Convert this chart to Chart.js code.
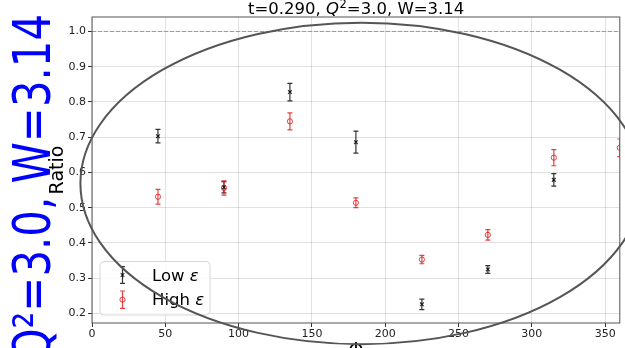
<!DOCTYPE html>
<html>
<head>
<meta charset="utf-8">
<script src="https://cdn.jsdelivr.net/npm/chart.js@4/dist/chart.umd.min.js"></script>
<style>
html,body{margin:0;padding:0;background:#fff;}
#wrap{width:625px;height:348px;position:relative;}
</style>
</head>
<body>
<div id="wrap"><canvas id="c" width="625" height="348"></canvas></div>
<script>
// ---- data ----
const lowPhi   = [45, 90, 135, 180, 225, 270, 315];
const lowRatio = [0.703, 0.558, 0.828, 0.686, 0.226, 0.325, 0.579];
const lowErr   = [0.019, 0.016, 0.025, 0.031, 0.015, 0.011, 0.018];

const highPhi   = [45, 90, 135, 180, 225, 270, 315, 360];
const highRatio = [0.531, 0.556, 0.745, 0.514, 0.353, 0.423, 0.642, 0.670];
const highErr   = [0.021, 0.020, 0.024, 0.014, 0.012, 0.015, 0.023, 0.025];

const xTicks = [0, 50, 100, 150, 200, 250, 300, 350];
const yTicks = [0.2, 0.3, 0.4, 0.5, 0.6, 0.7, 0.8, 0.9, 1.0];
const refLine = 1.0;

const titleParts = ["t=0.290, ", "Q", "2", "=3.0, W=3.14"];
const sideText = "Q\u00b2=3.0, W=3.14";
const yLabel = "Ratio";
const xLabel = "\u03a6";
const legendLabels = ["Low ", "High "];

// ellipse annotation (in data units)
const ellipseCenter = [183.7, 0.569];
const ellipseRadii = [191.6, 0.456];

const FONT = "'DejaVu Sans', sans-serif";
const LOW_COLOR = "rgba(0,0,0,0.8)";
const HIGH_COLOR = "rgba(228,30,30,0.85)";

function drawErr(ctx, x, yT, yB, color) {
  ctx.strokeStyle = color;
  ctx.lineWidth = 1.2;
  ctx.beginPath();
  ctx.moveTo(x, yT); ctx.lineTo(x, yB);
  ctx.moveTo(x - 2.5, yT); ctx.lineTo(x + 2.5, yT);
  ctx.moveTo(x - 2.5, yB); ctx.lineTo(x + 2.5, yB);
  ctx.stroke();
}

const errPlugin = {
  id: 'errbars',
  beforeDatasetsDraw(chart) {
    const ctx = chart.ctx, a = chart.chartArea;
    const xs = chart.scales.x, ys = chart.scales.y;
    ctx.save();
    ctx.beginPath(); ctx.rect(a.left, a.top, a.right - a.left, a.bottom - a.top); ctx.clip();
    ctx.strokeStyle = '#9a9a9a'; ctx.lineWidth = 1; ctx.setLineDash([4, 2]);
    const yr = ys.getPixelForValue(refLine);
    ctx.beginPath(); ctx.moveTo(a.left, yr); ctx.lineTo(a.right, yr); ctx.stroke();
    ctx.setLineDash([]);
    const sets = [[lowPhi, lowRatio, lowErr, LOW_COLOR], [highPhi, highRatio, highErr, HIGH_COLOR]];
    sets.forEach(([px, py, pe, col]) => {
      px.forEach((p, i) => {
        const x = xs.getPixelForValue(p);
        drawErr(ctx, x, ys.getPixelForValue(py[i] + pe[i]), ys.getPixelForValue(py[i] - pe[i]), col);
      });
    });
    ctx.restore();
  },
  afterDraw(chart) {
    const ctx = chart.ctx, a = chart.chartArea;
    const xs = chart.scales.x, ys = chart.scales.y;
    ctx.save();
    // frame
    ctx.strokeStyle = '#555'; ctx.lineWidth = 1;
    ctx.strokeRect(a.left, a.top, a.right - a.left, a.bottom - a.top);

    // title
    ctx.fillStyle = '#000';
    ctx.textBaseline = 'alphabetic';
    const fN = "16.5px " + FONT, fI = "italic 16.5px " + FONT, fS = "11.5px " + FONT;
    ctx.font = fN; const w0 = ctx.measureText(titleParts[0]).width;
    ctx.font = fI; const w1 = ctx.measureText(titleParts[1]).width;
    ctx.font = fS; const w2 = ctx.measureText(titleParts[2]).width;
    ctx.font = fN; const w3 = ctx.measureText(titleParts[3]).width;
    let tx = (a.left + a.right) / 2 - (w0 + w1 + w2 + w3) / 2;
    const tb = 13.5;
    ctx.textAlign = 'left';
    ctx.font = fN; ctx.fillText(titleParts[0], tx, tb); tx += w0;
    ctx.font = fI; ctx.fillText(titleParts[1], tx, tb); tx += w1 + 0.5;
    ctx.font = fS; ctx.fillText(titleParts[2], tx, tb - 6); tx += w2;
    ctx.font = fN; ctx.fillText(titleParts[3], tx, tb);

    // y label
    ctx.save();
    ctx.translate(63, (a.top + a.bottom) / 2);
    ctx.rotate(-Math.PI / 2);
    ctx.font = "19px " + FONT; ctx.textAlign = 'center';
    ctx.fillText(yLabel, 0, 0);
    ctx.restore();

    // x label
    ctx.font = "19px " + FONT; ctx.textAlign = 'center';
    ctx.fillText(xLabel, (a.left + a.right) / 2, 356);

    // big side text
    ctx.save();
    ctx.translate(50, 14);
    ctx.rotate(-Math.PI / 2);
    ctx.scale(0.82, 1);
    ctx.font = "51px " + FONT; ctx.textAlign = 'right'; ctx.fillStyle = '#0000ff';
    ctx.fillText(sideText, 0, 0);
    ctx.restore();

    // legend
    const lx = 100, ly = 261.5, lw = 110, lh = 53.5;
    ctx.beginPath();
    ctx.roundRect(lx, ly, lw, lh, 4);
    ctx.fillStyle = 'rgba(255,255,255,0.8)'; ctx.fill();
    ctx.strokeStyle = '#d6d6d6'; ctx.lineWidth = 1; ctx.stroke();
    const mx = 122.5;
    drawErr(ctx, mx, 266.7, 283.3, LOW_COLOR);
    ctx.strokeStyle = LOW_COLOR; ctx.lineWidth = 1.2;
    ctx.beginPath();
    ctx.moveTo(mx - 1.8, 273.2); ctx.lineTo(mx + 1.8, 276.8);
    ctx.moveTo(mx - 1.8, 276.8); ctx.lineTo(mx + 1.8, 273.2);
    ctx.stroke();
    drawErr(ctx, mx, 291, 308.3, HIGH_COLOR);
    ctx.strokeStyle = HIGH_COLOR; ctx.lineWidth = 1;
    ctx.beginPath(); ctx.arc(mx, 299.6, 2.6, 0, Math.PI * 2); ctx.stroke();
    ctx.fillStyle = '#000'; ctx.textAlign = 'left';
    [[legendLabels[0], 281], [legendLabels[1], 305]].forEach(([t, b]) => {
      ctx.font = "16.5px " + FONT;
      ctx.fillText(t, 152, b);
      const w = ctx.measureText(t).width;
      ctx.font = "italic 16.5px " + FONT;
      ctx.fillText("\u03b5", 152 + w, b);
    });

    // ellipse annotation
    const cx = xs.getPixelForValue(ellipseCenter[0]);
    const cy = ys.getPixelForValue(ellipseCenter[1]);
    const rx = xs.getPixelForValue(ellipseCenter[0] + ellipseRadii[0]) - cx;
    const ry = ys.getPixelForValue(ellipseCenter[1] - ellipseRadii[1]) - cy;
    ctx.strokeStyle = '#555'; ctx.lineWidth = 2;
    ctx.beginPath(); ctx.ellipse(cx, cy, rx, ry, 0, 0, Math.PI * 2); ctx.stroke();
    ctx.restore();
  }
};

const gridCommon = {
  color: 'rgba(0,0,0,0.15)',
  lineWidth: 0.8,
  borderDash: [1.5, 1.5],
  tickBorderDash: [],
  tickColor: '#333',
  tickWidth: 1,
  tickLength: 4,
  drawTicks: true
};

new Chart(document.getElementById('c'), {
  type: 'scatter',
  data: {
    datasets: [
      {
        label: 'Low',
        data: lowPhi.map((p, i) => ({x: p, y: lowRatio[i]})),
        pointStyle: 'crossRot', pointRadius: 2.6, pointBorderWidth: 1.2,
        borderColor: LOW_COLOR, backgroundColor: LOW_COLOR,
        clip: {left: 0, top: 0, right: 0, bottom: 0}
      },
      {
        label: 'High',
        data: highPhi.map((p, i) => ({x: p, y: highRatio[i]})),
        pointStyle: 'circle', pointRadius: 2.6, pointBorderWidth: 1,
        borderColor: HIGH_COLOR, backgroundColor: 'rgba(0,0,0,0)',
        clip: {left: 0, top: 0, right: 0, bottom: 0}
      }
    ]
  },
  options: {
    responsive: false,
    animation: false,
    events: [],
    layout: {padding: {top: 17, right: 3, left: 0, bottom: 0}},
    plugins: {legend: {display: false}, tooltip: {enabled: false}, title: {display: false}},
    scales: {
      x: {
        type: 'linear', min: 0, max: 360,
        afterFit(s) { s.height = 25; },
        afterBuildTicks(s) { s.ticks = xTicks.map(v => ({value: v})); },
        border: {display: false},
        grid: gridCommon,
        ticks: {font: {family: 'DejaVu Sans', size: 11}, color: '#222', padding: 1, maxRotation: 0,
          callback: v => String(v)}
      },
      y: {
        type: 'linear', min: 0.173, max: 1.041,
        afterFit(s) { s.width = 92; },
        afterBuildTicks(s) { s.ticks = yTicks.map(v => ({value: v})); },
        border: {display: false},
        grid: gridCommon,
        ticks: {font: {family: 'DejaVu Sans', size: 11}, color: '#222', padding: 2,
          callback: v => Number(v).toFixed(1)}
      }
    }
  },
  plugins: [errPlugin]
});
</script>
</body>
</html>
